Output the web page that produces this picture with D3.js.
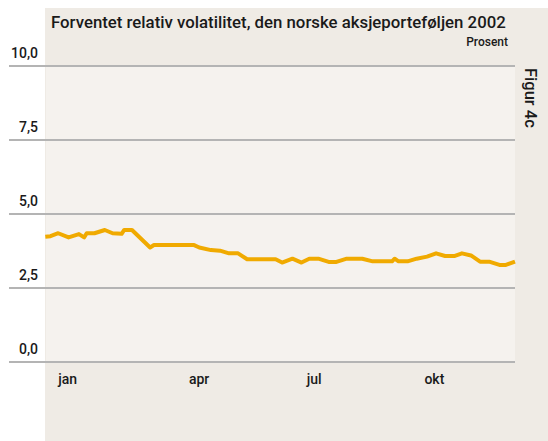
<!DOCTYPE html>
<html>
<head>
<meta charset="utf-8">
<script src="https://cdn.jsdelivr.net/npm/d3@7"></script>
<style>
  body { margin: 0; background: #ffffff; }
  text { font-family: Roboto, "DejaVu Sans", sans-serif; fill: #1a1a1a; }
</style>
</head>
<body>
<div id="chart"></div>
<script>
// data
var dates = ["2002-01-02","2002-01-06","2002-01-12","2002-01-20","2002-01-28","2002-02-01","2002-02-03",
             "2002-02-09","2002-02-17","2002-02-23","2002-03-02","2002-03-04","2002-03-10","2002-03-24",
             "2002-03-27","2002-04-27","2002-05-01","2002-05-10","2002-05-17","2002-05-24","2002-05-31",
             "2002-06-07","2002-06-29","2002-07-04","2002-07-12","2002-07-19","2002-07-25","2002-08-01",
             "2002-08-09","2002-08-15","2002-08-23","2002-09-04","2002-09-12","2002-09-27","2002-09-29",
             "2002-10-02","2002-10-09","2002-10-16","2002-10-24","2002-10-31","2002-11-07","2002-11-14",
             "2002-11-20","2002-11-27","2002-12-04","2002-12-11","2002-12-19","2002-12-24","2002-12-31"];
var volatility = [4.23,4.25,4.35,4.21,4.32,4.21,4.35,
                  4.35,4.46,4.35,4.33,4.46,4.46,3.87,
                  3.95,3.95,3.87,3.78,3.76,3.67,3.67,
                  3.47,3.47,3.36,3.49,3.36,3.49,3.49,
                  3.38,3.38,3.49,3.49,3.40,3.40,3.49,
                  3.40,3.40,3.49,3.56,3.67,3.58,3.58,
                  3.67,3.60,3.39,3.39,3.28,3.28,3.39];
var yTicks = [0, 2.5, 5, 7.5, 10];
var monthLabels = ["jan", "apr", "jul", "okt"];
var monthLabelDates = ["2002-01-12", "2002-04-23", "2002-07-23", "2002-10-22"];

var title = "Forventet relativ volatilitet, den norske aksjeporteføljen 2002";
var unit = "Prosent";
var figLabel = "Figur 4c";

var w = 548, h = 441;
var parse = d3.timeParse("%Y-%m-%d");

var xScale = d3.scaleTime()
               .domain([parse("2002-01-01"), parse("2002-12-31")])
               .range([44, 515]);

var yScale = d3.scaleLinear()
               .domain([0, 10])
               .range([362, 66]);

var svg = d3.select("#chart")
            .append("svg")
            .attr("width", w)
            .attr("height", h);

// outer panel and inner plot area
svg.append("rect")
   .attr("x", 45).attr("y", 8)
   .attr("width", w - 45).attr("height", h - 8)
   .attr("fill", "#efebe5");

svg.append("rect")
   .attr("x", 46).attr("y", yScale(10))
   .attr("width", 515 - 46).attr("height", yScale(0) - yScale(10))
   .attr("fill", "#f5f2ee");

// gridlines
svg.selectAll("line.grid")
   .data(yTicks)
   .enter()
   .append("line")
   .attr("class", "grid")
   .attr("x1", 9)
   .attr("x2", 515)
   .attr("y1", function(d) { return yScale(d); })
   .attr("y2", function(d) { return yScale(d); })
   .attr("stroke", "#b4b4b4")
   .attr("stroke-width", 2);

// y tick labels
svg.selectAll("text.ytick")
   .data(yTicks)
   .enter()
   .append("text")
   .attr("class", "ytick")
   .attr("x", 38)
   .attr("y", function(d) { return yScale(d) - 8; })
   .attr("text-anchor", "end")
   .attr("font-size", 14)
   .attr("font-weight", 500)
   .text(function(d) { return d3.format(".1f")(d).replace(".", ","); });

// x labels
svg.selectAll("text.xtick")
   .data(monthLabels)
   .enter()
   .append("text")
   .attr("class", "xtick")
   .attr("x", function(d, i) { return xScale(parse(monthLabelDates[i])); })
   .attr("y", 384)
   .attr("font-size", 14)
   .attr("font-weight", 500)
   .text(function(d) { return d; });

// the line
var line = d3.line()
             .x(function(d, i) { return xScale(parse(dates[i])); })
             .y(function(d) { return yScale(d); });

svg.append("path")
   .datum(volatility)
   .attr("d", line)
   .attr("fill", "none")
   .attr("stroke", "#f0aa00")
   .attr("stroke-width", 4)
   .attr("stroke-linejoin", "round");

// titles
svg.append("text")
   .attr("x", 51)
   .attr("y", 28)
   .attr("font-size", 16.8)
   .attr("font-weight", 500)
   .text(title);

svg.append("text")
   .attr("x", 508)
   .attr("y", 46)
   .attr("text-anchor", "end")
   .attr("font-size", 12)
   .attr("font-weight", 500)
   .text(unit);

svg.append("text")
   .attr("transform", "translate(525,68) rotate(90)")
   .attr("font-size", 16.5)
   .attr("font-weight", 500)
   .text(figLabel);
</script>
</body>
</html>
